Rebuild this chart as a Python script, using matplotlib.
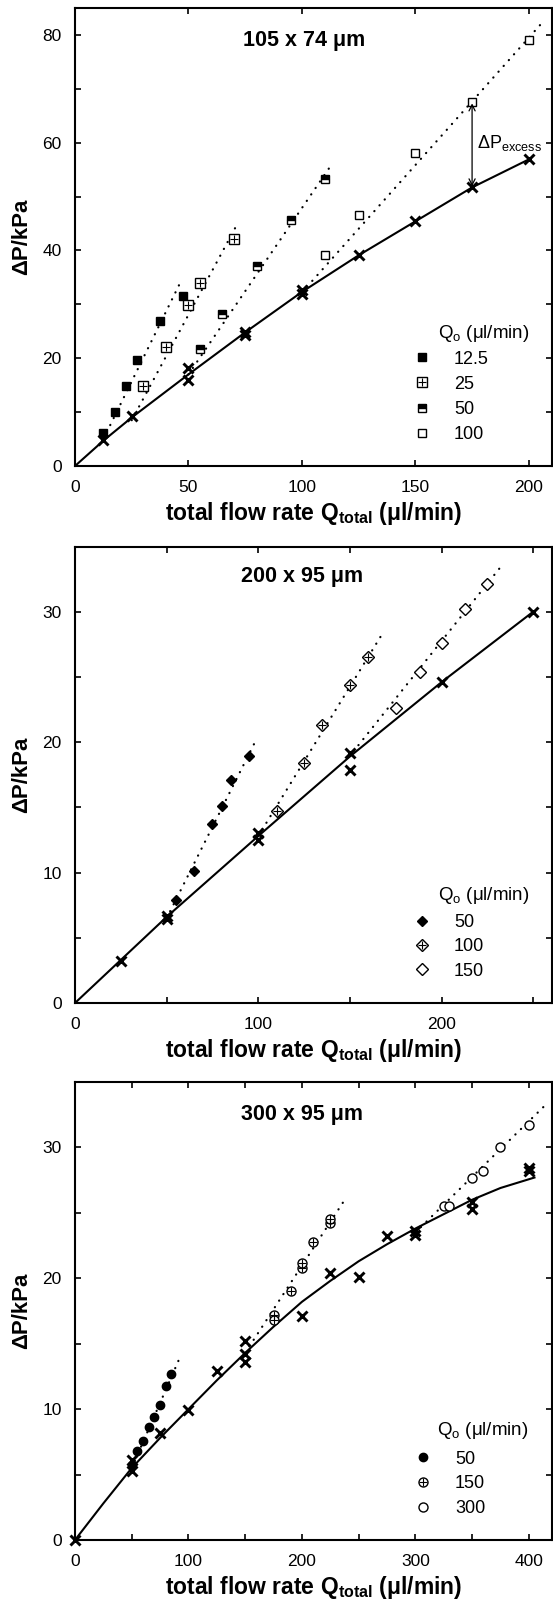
import matplotlib
matplotlib.use("Agg")
import matplotlib.pyplot as plt
from matplotlib.ticker import MultipleLocator, FuncFormatter
from matplotlib.legend_handler import HandlerTuple

plt.rcParams['font.family'] = ['Liberation Sans', 'DejaVu Sans']
plt.rcParams['mathtext.fontset'] = 'custom'
plt.rcParams['mathtext.rm'] = 'Liberation Sans'
plt.rcParams['mathtext.bf'] = 'Liberation Sans:bold'
plt.rcParams['mathtext.it'] = 'Liberation Sans:italic'

# ---------------- panel 1 : 105 x 74 um ----------------
q1_water = [12.5, 25, 50, 50, 75, 75, 100, 100, 125, 150, 175, 200]
p1_water = [4.8, 9.2, 18.2, 16.0, 24.8, 24.4, 32.7, 31.9, 39.1, 45.5, 51.8, 56.9]
q1_fit = [0, 12.5, 25, 50, 75, 100, 125, 150, 175, 200]
p1_fit = [0, 4.7, 9.0, 17.0, 24.8, 32.3, 39.1, 45.4, 51.7, 56.9]

q1_a = [12.5, 17.5, 22.5, 27.5, 37.5, 47.5]      # Qo = 12.5
p1_a = [6.1, 10.0, 14.9, 19.6, 27.0, 31.6]
q1_b = [30, 40, 50, 55, 70]                      # Qo = 25
p1_b = [14.9, 22.0, 29.9, 33.9, 42.1]
q1_c = [55, 65, 80, 95, 110]                     # Qo = 50
p1_c = [21.7, 28.2, 37.1, 45.6, 53.2]
q1_d = [110, 125, 150, 175, 200]                 # Qo = 100
p1_d = [39.1, 46.6, 58.1, 67.6, 79.1]

dq1_a, dp1_a = [12.5, 46.7], [5.0, 34.3]
dq1_b, dp1_b = [25, 71], [8.5, 44.5]
dq1_c, dp1_c = [50, 113], [17.0, 55.9]
dq1_d, dp1_d = [100, 207], [32.2, 82.8]

# ---------------- panel 2 : 200 x 95 um ----------------
q2_water = [25, 50, 50, 100, 100, 150, 150, 200, 250]
p2_water = [3.25, 6.7, 6.45, 13.05, 12.5, 19.2, 17.9, 24.6, 30.0]
q2_fit = [0, 25, 50, 100, 150, 200, 250]
p2_fit = [0, 3.3, 6.6, 12.8, 18.9, 24.6, 30.0]

q2_a = [55, 65, 75, 80, 85, 95]                  # Qo = 50
p2_a = [7.9, 10.1, 13.7, 15.1, 17.1, 18.9]
q2_b = [110, 125, 135, 150, 160]                 # Qo = 100
p2_b = [14.7, 18.4, 21.3, 24.4, 26.5]
q2_c = [175, 188, 200, 213, 225]                 # Qo = 150
p2_c = [22.6, 25.4, 27.6, 30.2, 32.1]

dq2_a, dp2_a = [50, 98.2], [6.5, 20.0]
dq2_b, dp2_b = [100, 166.8], [12.8, 28.1]
dq2_c, dp2_c = [152, 231.5], [19.3, 33.3]

# ---------------- panel 3 : 300 x 95 um ----------------
q3_water = [0, 50, 50, 75, 100, 125, 150, 150, 150, 200, 225, 250, 275, 300, 300, 350, 350, 400, 400]
p3_water = [0, 6.15, 5.3, 8.2, 9.9, 12.9, 15.2, 14.2, 13.6, 17.1, 20.4, 20.1, 23.2, 23.6, 23.3, 25.8, 25.3, 28.4, 28.2]
q3_fit = [0, 25, 50, 75, 100, 125, 150, 175, 200, 225, 250, 275, 300, 325, 350, 375, 405]
p3_fit = [0, 2.8, 5.5, 7.8, 10.0, 12.2, 14.3, 16.3, 18.2, 19.8, 21.3, 22.6, 23.8, 24.9, 26.0, 26.9, 27.7]

q3_a = [50, 55, 60, 65, 70, 75, 80, 85]          # Qo = 50
p3_a = [5.7, 6.8, 7.6, 8.6, 9.4, 10.3, 11.8, 12.7]
q3_b = [175, 175, 190, 200, 200, 210, 225, 225]  # Qo = 150
p3_b = [17.2, 16.8, 19.0, 20.8, 21.2, 22.8, 24.2, 24.5]
q3_c = [325, 330, 350, 360, 375, 400]            # Qo = 300
p3_c = [25.5, 25.5, 27.7, 28.2, 30.0, 31.7]

dq3_a, dp3_a = [50, 92.7], [5.5, 14.0]
dq3_b, dp3_b = [150, 237], [14.3, 25.9]
dq3_c, dp3_c = [300, 413], [23.5, 33.1]

W, H = 553, 1602
fig = plt.figure(figsize=(W / 100, H / 100), dpi=100)
ax1 = fig.add_axes([75 / W, 1 - 466 / H, 476.5 / W, 458 / H])
ax2 = fig.add_axes([75 / W, 1 - 1003 / H, 476.5 / W, 456.5 / H])
ax3 = fig.add_axes([75 / W, 1 - 1540 / H, 476.5 / W, 458 / H])

dot = dict(color='black', lw=1.6, ls=(0, (0.1, 3.4)), dash_capstyle='round')
cross = dict(ls='none', marker='x', ms=6.5, mew=2.1, color='black')


def style_axis(ax, xmax, ymax, xmaj, xmin, ymaj, ymin):
    ax.set_xlim(0, xmax)
    ax.set_ylim(0, ymax)
    ax.xaxis.set_major_locator(MultipleLocator(xmaj))
    ax.xaxis.set_minor_locator(MultipleLocator(xmin))
    ax.yaxis.set_major_locator(MultipleLocator(ymaj))
    ax.yaxis.set_minor_locator(MultipleLocator(ymin))
    ax.xaxis.set_major_formatter(FuncFormatter(lambda v, p: '%d' % v))
    ax.yaxis.set_major_formatter(FuncFormatter(lambda v, p: '%d' % v))
    ax.tick_params(which='both', direction='in', top=True, right=True,
                   length=4, width=1.2, labelsize=12.5)
    ax.tick_params(axis='x', which='major', pad=10)
    ax.tick_params(axis='y', which='major', pad=9.5)
    for s in ax.spines.values():
        s.set_linewidth(1.5)
    ax.set_xlabel('total flow rate Q$_{\\mathbf{total}}$ (\u03bcl/min)',
                  fontsize=16.5, fontweight='bold', labelpad=4)
    ax.set_ylabel('\u0394P/kPa', fontsize=16, fontweight='bold')
    ax.yaxis.set_label_coords(-0.091, 0.5)


def hollow(marker, ms):
    return dict(ls='none', marker=marker, ms=ms, mfc='white', mec='black', mew=1.0)


plus = dict(ls='none', marker='+', ms=6, mew=0.8, color='black')
leg_kw = dict(handler_map={tuple: HandlerTuple(ndivide=1)}, loc='upper left',
              frameon=False, borderpad=0, borderaxespad=0, handlelength=1.0,
              handletextpad=1.25, fontsize=13)

# ---- panel 1 ----
ax = ax1
ax.plot(q1_fit, p1_fit, color='black', lw=1.5)
for dq, dp in [(dq1_a, dp1_a), (dq1_b, dp1_b), (dq1_c, dp1_c), (dq1_d, dp1_d)]:
    ax.plot(dq, dp, **dot)
ax.plot(q1_water, p1_water, **cross)
h_a, = ax.plot(q1_a, p1_a, ls='none', marker='s', ms=6, color='black')
h_b1, = ax.plot(q1_b, p1_b, **hollow('s', 6.5))
h_b2, = ax.plot(q1_b, p1_b, **plus)
h_c, = ax.plot(q1_c, p1_c, ls='none', marker='s', ms=6, fillstyle='top',
               color='black', mfcalt='white', mew=1.0)
h_d, = ax.plot(q1_d, p1_d, **hollow('s', 6))
ax.annotate('', xy=(175, 51.9), xytext=(175, 67.3),
            arrowprops=dict(arrowstyle='<->', lw=0.9, color='black', mutation_scale=11,
                            shrinkA=0, shrinkB=0))
ax.text(177, 60, '\u0394P$_{\\mathrm{excess}}$', fontsize=13, va='center', ha='left')
ax.text(101, 79, '105 x 74 \u03bcm', fontsize=15.5, fontweight='bold', ha='center', va='center')
style_axis(ax, 210, 85, 50, 50, 10, 10)
ax.yaxis.set_major_formatter(FuncFormatter(lambda v, p: '%d' % v if v % 20 == 0 else ''))
ax.text(0.761, 0.290, 'Q$_{\\mathrm{o}}$ (\u03bcl/min)', transform=ax.transAxes,
        fontsize=13.5, ha='left', va='center')
ax.legend([h_a, (h_b1, h_b2), h_c, h_d], ['12.5', '25', '50', '100'],
          bbox_to_anchor=(0.71, 0.252), labelspacing=0.45, **leg_kw)

# ---- panel 2 ----
ax = ax2
ax.plot(q2_fit, p2_fit, color='black', lw=1.5)
for dq, dp in [(dq2_a, dp2_a), (dq2_b, dp2_b), (dq2_c, dp2_c)]:
    ax.plot(dq, dp, **dot)
ax.plot(q2_water, p2_water, **cross)
g_a, = ax.plot(q2_a, p2_a, ls='none', marker='D', ms=5.5, color='black')
g_b1, = ax.plot(q2_b, p2_b, **hollow('D', 6))
g_b2, = ax.plot(q2_b, p2_b, **plus)
g_c, = ax.plot(q2_c, p2_c, **hollow('D', 6))
ax.text(124, 32.7, '200 x 95 \u03bcm', fontsize=15.5, fontweight='bold', ha='center', va='center')
style_axis(ax, 260, 35, 100, 50, 10, 5)
ax.text(0.762, 0.236, 'Q$_{\\mathrm{o}}$ (\u03bcl/min)', transform=ax.transAxes,
        fontsize=13.5, ha='left', va='center')
ax.legend([g_a, (g_b1, g_b2), g_c], ['50', '100', '150'],
          bbox_to_anchor=(0.71, 0.195), labelspacing=0.41, **leg_kw)

# ---- panel 3 ----
ax = ax3
ax.plot(q3_fit, p3_fit, color='black', lw=1.5)
for dq, dp in [(dq3_a, dp3_a), (dq3_b, dp3_b), (dq3_c, dp3_c)]:
    ax.plot(dq, dp, **dot)
ax.plot(q3_water, p3_water, clip_on=False, **cross)
k_a, = ax.plot(q3_a, p3_a, ls='none', marker='o', ms=6, color='black')
k_b1, = ax.plot(q3_b, p3_b, **hollow('o', 6.5))
k_b2, = ax.plot(q3_b, p3_b, **plus)
k_c, = ax.plot(q3_c, p3_c, **hollow('o', 6.5))
ax.text(200, 32.5, '300 x 95 \u03bcm', fontsize=15.5, fontweight='bold', ha='center', va='center')
style_axis(ax, 420, 35, 100, 50, 10, 5)
ax.text(0.760, 0.238, 'Q$_{\\mathrm{o}}$ (\u03bcl/min)', transform=ax.transAxes,
        fontsize=13.5, ha='left', va='center')
ax.legend([k_a, (k_b1, k_b2), k_c], ['50', '150', '300'],
          bbox_to_anchor=(0.712, 0.195), labelspacing=0.42, **leg_kw)

fig.savefig('out.png', dpi=100)
